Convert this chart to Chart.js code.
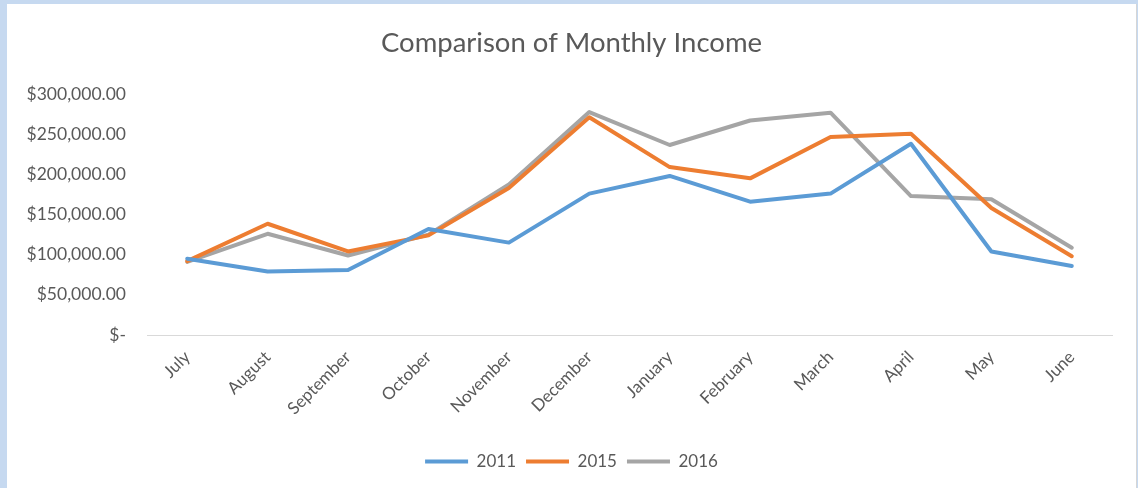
<!DOCTYPE html>
<html>
<head>
<meta charset="utf-8">
<script src="https://cdn.jsdelivr.net/npm/chart.js@4.4.1/dist/chart.umd.min.js"></script>
<style>
  html, body { margin: 0; padding: 0; background: #c6d9f0; }
  #wrap { position: absolute; left: 7px; top: 4px; width: 1129px; height: 484px; background: #ffffff; border-right: 1px solid #d6d6d6; box-sizing: content-box; }
  canvas { display: block; }
</style>
</head>
<body>
<div id="wrap"><canvas id="c" width="1129" height="484"></canvas></div>
<script>
const months = ["July", "August", "September", "October", "November", "December", "January", "February", "March", "April", "May", "June"];
const income2011 = [95000, 79000, 81000, 132000, 115000, 176000, 198000, 166000, 176000, 238000, 104000, 86000];
const income2015 = [92000, 138500, 104000, 124000, 183000, 271000, 209000, 195000, 246500, 250500, 158000, 98000];
const income2016 = [91000, 126000, 99000, 125000, 187500, 277500, 236500, 267000, 276700, 173000, 169000, 108700];
const yTicks = [0, 50000, 100000, 150000, 200000, 250000, 300000];

const textColor = '#595959';
const fontFamily = 'Lato, "Open Sans", sans-serif';

function fmt(v) {
  if (v === 0) return '$-';
  return '$' + v.toLocaleString('en-US', { minimumFractionDigits: 2, maximumFractionDigits: 2 });
}

function ds(label, data, color) {
  return {
    label: label,
    data: data,
    borderColor: color,
    backgroundColor: color,
    borderWidth: 4,
    pointRadius: 0,
    pointHoverRadius: 0,
    tension: 0,
    borderCapStyle: 'round',
    borderJoinStyle: 'round',
    fill: false
  };
}

new Chart(document.getElementById('c'), {
  type: 'line',
  data: {
    labels: months,
    datasets: [
      ds('2011', income2011, '#5b9bd5'),
      ds('2015', income2015, '#ed7d31'),
      ds('2016', income2016, '#a5a5a5')
    ]
  },
  options: {
    responsive: false,
    animation: false,
    events: [],
    layout: { padding: { left: 0, right: 0, top: 0, bottom: 8 } },
    plugins: {
      title: {
        display: true,
        text: 'Comparison of Monthly Income',
        color: textColor,
        font: { family: fontFamily, size: 27.5, weight: 'normal' },
        padding: { top: 23, bottom: 34 }
      },
      legend: {
        position: 'bottom',
        labels: {
          color: textColor,
          font: { family: fontFamily, size: 17 },
          usePointStyle: true,
          pointStyle: 'line',
          pointStyleWidth: 43,
          padding: 10
        }
      },
      tooltip: { enabled: false }
    },
    scales: {
      x: {
        offset: true,
        grid: { display: false, drawTicks: false },
        border: { display: true, color: '#d9d9d9', width: 1 },
        ticks: {
          color: textColor,
          font: { family: fontFamily, size: 17 },
          maxRotation: 45,
          minRotation: 45,
          padding: 12,
          autoSkip: false
        },
        afterFit: function (scale) { scale.height = 108; }
      },
      y: {
        min: 0,
        max: 300000,
        grid: { display: false, drawTicks: false },
        border: { display: false },
        afterBuildTicks: function (scale) { scale.ticks = yTicks.map(v => ({ value: v })); },
        ticks: {
          color: textColor,
          font: { family: fontFamily, size: 17.5 },
          padding: 21,
          callback: function (v) { return fmt(v); }
        },
        afterFit: function (scale) { scale.width = 140; }
      },
      yRight: {
        position: 'right',
        min: 0,
        max: 300000,
        grid: { display: false, drawTicks: false },
        border: { display: false },
        ticks: { display: false },
        afterFit: function (scale) { scale.width = 24; }
      }
    }
  }
});
</script>
</body>
</html>
